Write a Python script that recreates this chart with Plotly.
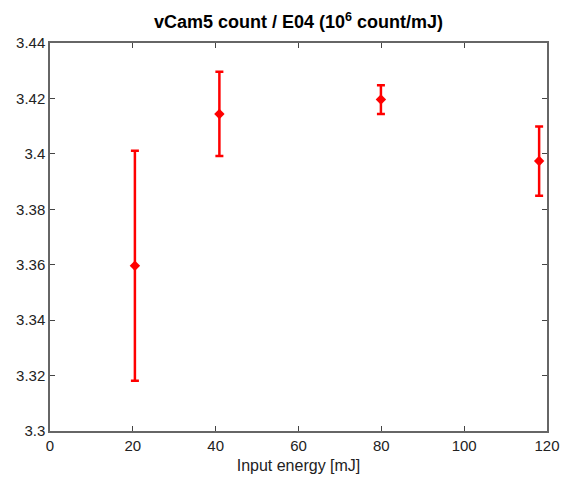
import plotly.graph_objects as go

energy = [20.5, 40.9, 79.9, 118.1]
ratio = [3.3596, 3.4144, 3.4196, 3.3974]
err = [0.0415, 0.0152, 0.0052, 0.0125]

x_ticks = [0, 20, 40, 60, 80, 100, 120]
y_ticks = [3.3, 3.32, 3.34, 3.36, 3.38, 3.4, 3.42, 3.44]
y_labels = ["3.3", "3.32", "3.34", "3.36", "3.38", "3.4", "3.42", "3.44"]

fig = go.Figure()
fig.add_trace(go.Scatter(
    x=energy, y=ratio, mode="markers",
    marker=dict(symbol="diamond", size=8, color="red"),
    error_y=dict(type="data", array=err, visible=True, color="red", thickness=2.5, width=4),
    showlegend=False,
))

axis_common = dict(
    showline=True, linecolor="#666666", linewidth=1.5, mirror="allticks",
    ticks="inside", ticklen=5, tickcolor="#444444", tickwidth=1,
    showgrid=False, zeroline=False, automargin=False, ticklabeloverflow="allow",
    tickfont=dict(family="Liberation Sans, Arial", size=15, color="#222222"),
)

fig.update_layout(
    width=561, height=483,
    margin=dict(l=50, r=14, t=43, b=52),
    paper_bgcolor="white", plot_bgcolor="white",
    title=dict(text="<b>vCam5 count / E04 (10<sup>6</sup> count/mJ)</b>",
               xref="paper", x=0.5, xanchor="center", y=1 - 22 / 483, yanchor="middle",
               font=dict(family="Liberation Sans, Arial", size=18, color="black")),
    xaxis=dict(range=[0, 120], tickvals=x_ticks,
               title=dict(text="Input energy [mJ]", standoff=7,
                          font=dict(family="Liberation Sans, Arial", size=16, color="#222222")),
               **axis_common),
    yaxis=dict(range=[3.3, 3.44], tickvals=y_ticks, ticktext=y_labels, **axis_common),
)

fig.write_html("out.html", config={"displayModeBar": False},
               post_script="document.body.style.margin='0';document.body.style.overflow='hidden';")
